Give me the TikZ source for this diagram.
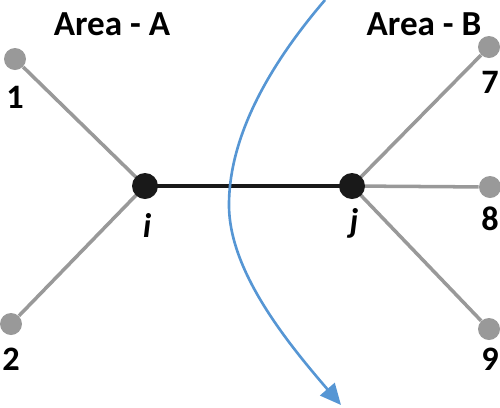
\documentclass[tikz,border=0pt]{standalone}
\usepackage{fontspec}
\setmainfont{Carlito}
\usetikzlibrary{arrows.meta}
\definecolor{leafgray}{RGB}{153,153,153}
\definecolor{cutblue}{RGB}{86,150,212}
\definecolor{busblack}{RGB}{25,25,25}

\begin{document}
\begin{tikzpicture}[x=0.02cm,y=-0.02cm,
	bus/.style={circle,fill=busblack,inner sep=0pt,minimum size=0.52cm},
	leaf/.style={circle,fill=leafgray,inner sep=0pt,minimum size=0.44cm},
	tie/.style={draw=busblack,line width=2.6pt},
	branch/.style={draw=leafgray,line width=2pt},
	num/.style={anchor=base,inner sep=0pt,font=\bfseries\fontsize{19.5}{19.5}\selectfont},
	area/.style={num,font=\bfseries\fontsize{20}{20}\selectfont}]
	\useasboundingbox (0,0) rectangle (500,407);

	% areas
	\node[area]		(areaA) at (112,35)		{Area - A};
	\node[area]		(areaB) at (424,35)		{Area - B};

	% leaf buses
	\node[leaf]		(n1) at (15,59)		{};
	\node[leaf]		(n2) at (11,324)	{};
	\node[leaf]		(n7) at (489,47)	{};
	\node[leaf]		(n8) at (490,187)	{};
	\node[leaf]		(n9) at (489,329)	{};

	% tie-line buses
	\coordinate		(i) at (145,186);
	\coordinate		(j) at (352,186);

	\draw[branch]	(n1) -- (i);
	\draw[branch]	(n2) -- (i);
	\draw[branch]	(n7) -- (j);
	\draw[branch]	(n8) -- (j);
	\draw[branch]	(n9) -- (j);
	\draw[tie]		(i) -- (j);

	\node[bus]		(bi) at (i)		{};
	\node[bus]		(bj) at (j)		{};

	% labels
	\node[num]		(l1) at (15,108)	{1};
	\node[num]		(l2) at (11,370)	{2};
	\node[num]		(l7) at (490,93)	{7};
	\node[num]		(l8) at (490,230)	{8};
	\node[num]		(l9) at (490,370)	{9};
	\node[num]		(li) at (147,237)	{\itshape i};
	\node[num]		(lj) at (354,232)	{\itshape j};

	% cut
	\coordinate		(cutS) at (325,0);
	\coordinate		(cutM) at (229,205);
	\coordinate		(cutE) at (341,405);
	\draw[cutblue,line width=1.5pt,-{Triangle[length=0.42cm,width=0.38cm]}]
		(cutS) .. controls (265,70) and (229,140) .. (cutM)
		.. controls (229,270) and (285,340) .. (cutE);
\end{tikzpicture}
\end{document}
